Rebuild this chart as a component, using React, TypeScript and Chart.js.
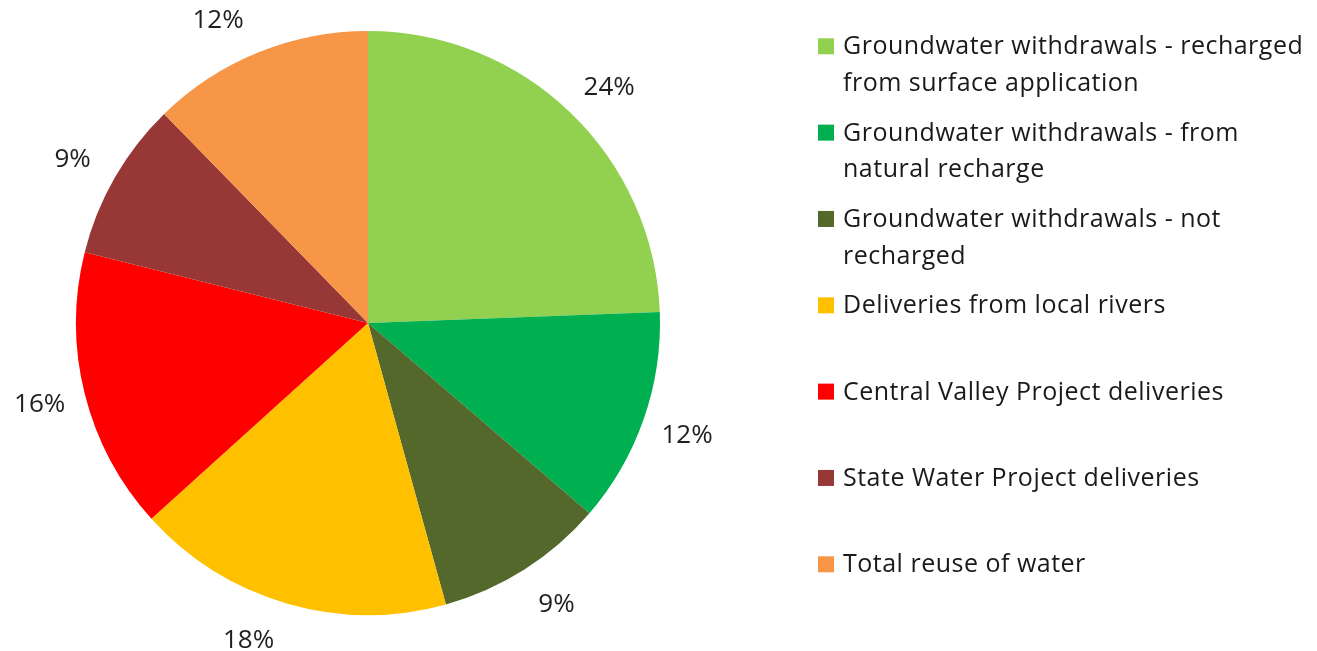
import React, { useEffect, useRef } from "react";
import { Chart, registerables } from "chart.js";

Chart.register(...registerables);

const categories: string[][] = [
  ["Groundwater withdrawals - recharged", "from surface application"],
  ["Groundwater withdrawals - from", "natural recharge"],
  ["Groundwater withdrawals - not", "recharged"],
  ["Deliveries from local rivers"],
  ["Central Valley Project deliveries"],
  ["State Water Project deliveries"],
  ["Total reuse of water"],
];
const shares: number[] = [24.4, 11.9, 9.4, 17.6, 15.6, 8.8, 12.3];
const percentLabels: string[] = ["24%", "12%", "9%", "18%", "16%", "9%", "12%"];
const colors: string[] = ["#92D050", "#00B050", "#55682B", "#FFC000", "#FF0000", "#973836", "#F79646"];
// small angular nudges (degrees) of the outside labels, as in the original layout
const labelNudgeDeg: number[] = [1.6, 0, -1.5, 4.5, 0.3, -0.8, -4.2];

const FONT = "'Open Sans', 'Noto Sans', sans-serif";

const labelPlugin = {
  id: "outerLabels",
  afterDraw(chart: any) {
    const ctx = chart.ctx;
    const meta = chart.getDatasetMeta(0);
    ctx.save();
    ctx.font = `26px ${FONT}`;
    ctx.fillStyle = "#1f1f1f";
    ctx.textAlign = "center";
    ctx.textBaseline = "middle";
    meta.data.forEach((arc: any, i: number) => {
      const p = arc.getProps(["x", "y", "startAngle", "endAngle", "outerRadius"], true);
      const mid = (p.startAngle + p.endAngle) / 2 + (labelNudgeDeg[i] * Math.PI) / 180;
      const r = p.outerRadius + 46;
      ctx.fillText(percentLabels[i], p.x + Math.cos(mid) * r, p.y + Math.sin(mid) * r + 1);
    });
    ctx.restore();
  },
};

const legendPlugin = {
  id: "sideLegend",
  afterDraw(chart: any) {
    const ctx = chart.ctx;
    ctx.save();
    ctx.font = `25px ${FONT}`;
    try {
      (ctx as any).letterSpacing = "0.5px";
    } catch (e) {}
    ctx.textAlign = "left";
    ctx.textBaseline = "middle";
    const x0 = 818;
    const y0 = 47.3;
    const step = 86.33;
    const lineH = 36.5;
    categories.forEach((lines, i) => {
      const y = y0 + step * i;
      ctx.fillStyle = colors[i];
      ctx.fillRect(x0, y - 9, 16, 16);
      ctx.fillStyle = "#1a1a1a";
      lines.forEach((t, j) => ctx.fillText(t, x0 + 25, y + j * lineH));
    });
    ctx.restore();
  },
};

export default function App() {
  const ref = useRef<HTMLCanvasElement | null>(null);
  useEffect(() => {
    if (!ref.current) return;
    const chart = new Chart(ref.current, {
      type: "pie",
      data: {
        labels: categories.map((c) => c.join(" ")),
        datasets: [{ data: shares, backgroundColor: colors, borderWidth: 0 }],
      },
      options: {
        responsive: false,
        animation: false,
        layout: { padding: { left: 76, right: 657, top: 31, bottom: 36 } },
        plugins: { legend: { display: false }, tooltip: { enabled: false } },
      },
      plugins: [labelPlugin, legendPlugin],
    });
    return () => chart.destroy();
  }, []);
  return (
    <div style={{ position: "fixed", left: 0, top: 0, width: 1317, height: 651, background: "#fff" }}>
      <canvas ref={ref} width={1317} height={651} style={{ width: 1317, height: 651 }} />
    </div>
  );
}
